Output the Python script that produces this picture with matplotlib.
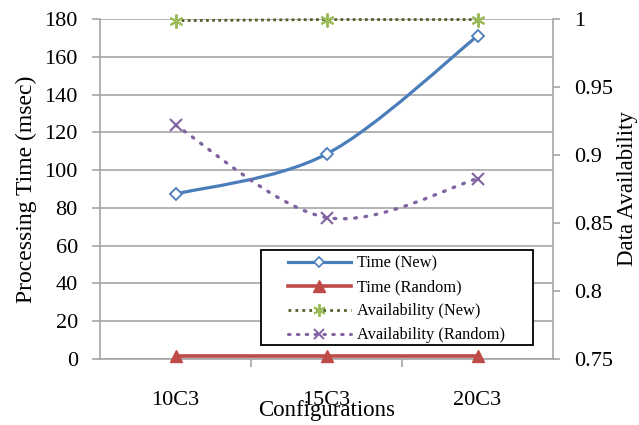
import matplotlib
matplotlib.use('Agg')
import matplotlib.pyplot as plt
import numpy as np
from matplotlib.path import Path
from matplotlib.patches import PathPatch, Rectangle
from matplotlib.lines import Line2D

plt.rcParams['font.family'] = ['Liberation Serif', 'DejaVu Serif']

configs = ['10C3', '15C3', '20C3']
time_new = [87.3, 108.5, 171.0]
time_random = [1.5, 1.5, 1.5]
avail_new = [0.9988, 0.9996, 0.9996]
avail_random = [0.922, 0.854, 0.8826]

BLUE = '#4a7ebb'
RED = '#be4b48'
GREEN_LINE = '#4f6228'
GREEN_MARK = '#9bbb59'
PURPLE = '#8064a2'
GRID = '#a6a6a6'


def smooth_path(xs, ys):
    # excel-like smoothed line: bezier segments, catmull-rom style control points
    pts = np.column_stack([xs, ys]).astype(float)
    n = len(pts)
    verts = [pts[0]]
    codes = [Path.MOVETO]
    for i in range(n - 1):
        p0 = pts[max(i - 1, 0)]
        p1 = pts[i]
        p2 = pts[i + 1]
        p3 = pts[min(i + 2, n - 1)]
        c1 = p1 + (p2 - p0) / 6.0
        c2 = p2 - (p3 - p1) / 6.0
        verts += [c1, c2, p2]
        codes += [Path.CURVE4] * 3
    return Path(verts, codes)


x = np.arange(len(configs))

fig = plt.figure(figsize=(6.39, 4.25), dpi=100)
ax = fig.add_axes([100/639, 1-359/425, 453/639, 340/425])
ax2 = ax.twinx()

# left axis: processing time
ax.add_patch(PathPatch(smooth_path(x, time_new), fill=False, edgecolor=BLUE,
                       lw=2.3, zorder=3))
ax.plot(x, time_new, linestyle='none', marker='D', markersize=6.5,
        markerfacecolor='white', markeredgecolor=BLUE, markeredgewidth=1.3, zorder=4)
ax.plot(x, time_random, color=RED, lw=2.6, marker='^', markersize=9,
        markeredgecolor=RED, zorder=3, clip_on=False)

ax.set_xlim(-0.5, 2.5)
ax.set_ylim(0, 180)
ax.set_yticks(np.arange(0, 181, 20))
ax.grid(axis='y', color=GRID, lw=1.2)
ax.set_axisbelow(True)
ax.set_xticks(x)
ax.set_xticklabels(configs)
ax.set_xticks([0.5, 1.5], minor=True)
ax.tick_params(axis='x', which='major', length=0, pad=23, labelsize=16)
ax.tick_params(axis='x', which='minor', length=6, color=GRID, width=1.2)
ax.tick_params(axis='y', length=6, color=GRID, width=1.2, labelsize=16, pad=10)
ax.set_ylabel('Processing Time (msec)', fontsize=17, labelpad=5)
ax.set_xlabel('Configurations', fontsize=16.5, labelpad=-7)

# right axis: availability
ax2.plot(x, avail_new, color=GREEN_LINE, lw=2.0, linestyle=(0, (1, 1.2)),
         zorder=3, clip_on=False)
ax2.plot(x, avail_new, linestyle='none', marker=(6, 2, 0), markersize=10,
         markeredgecolor=GREEN_MARK, markeredgewidth=1.5, zorder=4, clip_on=False)
ax2.add_patch(PathPatch(smooth_path(x, avail_random), fill=False, edgecolor=PURPLE,
                        lw=2.4, linestyle=(0, (0.5, 2.6)), capstyle='round', zorder=3))
ax2.plot(x, avail_random, linestyle='none', marker='x', markersize=8,
         markeredgecolor=PURPLE, markeredgewidth=1.5, zorder=4)
ax2.set_ylim(0.75, 1.0)
ax2.set_yticks([0.75, 0.8, 0.85, 0.9, 0.95, 1.0])
ax2.set_yticklabels(['0.75', '0.8', '0.85', '0.9', '0.95', '1'])
ax2.tick_params(axis='y', length=5, color=GRID, width=1.2, labelsize=16, pad=10)
ax2.set_ylabel('Data Availability', fontsize=16.5, labelpad=3)

for a in (ax, ax2):
    a.spines['top'].set_visible(False)
    for s in ('left', 'right', 'bottom'):
        a.spines[s].set_color(GRID)
        a.spines[s].set_linewidth(1.2)
ax.spines['right'].set_visible(False)
ax2.spines['left'].set_visible(False)
ax2.spines['bottom'].set_visible(False)

# legend box
box = Rectangle((0.355, 0.041), 0.6005, 0.279, transform=ax2.transAxes,
                facecolor='white', edgecolor='black', lw=1.3, zorder=9)
ax2.add_patch(box)

handles = [
    Line2D([], [], color=BLUE, lw=2.3, marker='D', markersize=5.5,
           markerfacecolor='white', markeredgecolor=BLUE, markeredgewidth=1.2),
    Line2D([], [], color=RED, lw=2.6, marker='^', markersize=8, markeredgecolor=RED),
    Line2D([], [], color=GREEN_LINE, lw=2.0, linestyle=(0, (1, 1.5)), marker=(6, 2, 0),
           markersize=9, markeredgecolor=GREEN_MARK, markeredgewidth=1.4),
    Line2D([], [], color=PURPLE, lw=2.2, linestyle=(0, (0.5, 2.4)), marker='x',
           markersize=7, markeredgecolor=PURPLE, markeredgewidth=1.4,
           dash_capstyle='round'),
]
labels = ['Time (New)', 'Time (Random)', 'Availability (New)', 'Availability (Random)']
leg = ax2.legend(handles, labels, loc='center', bbox_to_anchor=(0.655, 0.175),
                 fontsize=11.8, frameon=False, borderpad=0, labelspacing=0.48,
                 handlelength=3.8, handletextpad=0.4, borderaxespad=0)
leg.set_zorder(10)

fig.savefig('out.png', dpi=100)
